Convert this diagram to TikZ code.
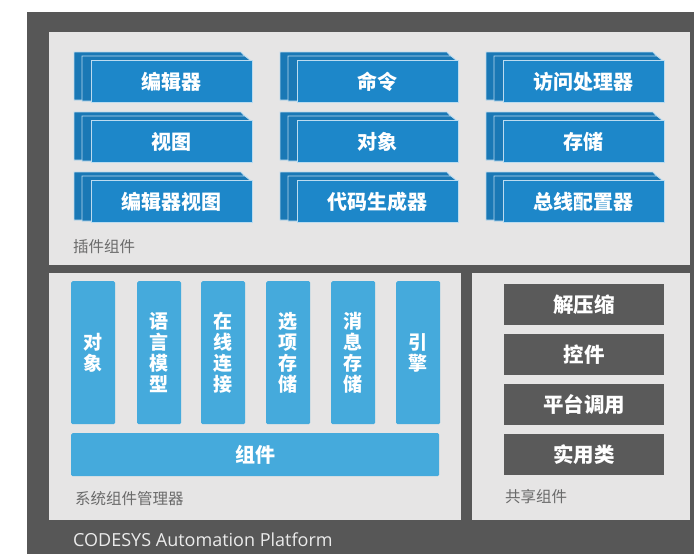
\documentclass[tikz,border=0pt]{standalone}
\usepackage{fontspec}
\setmainfont{Open Sans}
\newfontfamily\cjk{Noto Sans CJK SC}
\definecolor{framegray}{HTML}{575757}
\definecolor{panelgray}{HTML}{E6E5E5}
\definecolor{plugblue}{HTML}{1D87C9}
\definecolor{layerblue}{HTML}{1A78B5}
\definecolor{sysblue}{HTML}{45AADC}
\definecolor{darkbox}{HTML}{5A5A5A}
\definecolor{labelgray}{HTML}{6A6A6A}
\tikzset{
  panel/.style={fill=panelgray, draw=none},
  layer/.style={fill=layerblue, draw=white!70!plugblue, line width=0.9pt},
  plugbox/.style={fill=plugblue, draw=white!70!plugblue, line width=0.9pt, text=white,
    minimum width=161pt, minimum height=42pt, anchor=north west, inner sep=0pt,
    font=\cjk\bfseries\fontsize{20}{20}\selectfont},
  vbar/.style={fill=sysblue, text=white, minimum width=44pt, minimum height=143pt,
    anchor=north west, inner sep=0pt, align=center, rounded corners=1.5pt,
    font=\cjk\bfseries\fontsize{19}{21}\selectfont},
  hbar/.style={fill=sysblue, text=white, minimum width=368pt, minimum height=43pt,
    anchor=north west, inner sep=0pt, rounded corners=1.5pt,
    font=\cjk\bfseries\fontsize{20}{20}\selectfont},
  dbox/.style={fill=darkbox, text=white, minimum width=160pt, minimum height=41pt,
    anchor=north west, inner sep=0pt, font=\cjk\bfseries\fontsize{20.5}{20.5}\selectfont},
  grouplabel/.style={text=labelgray, anchor=west, inner sep=0pt,
    font=\cjk\fontsize{15.5}{15.5}\selectfont},
}
\newcommand\plugstack[4]{%
  \path[layer] (#2-17,#3-8) -- (#2+150,#3-8) -- (#2+157,#3) -- (#2+157,#3+40) -- (#2-17,#3+40) -- cycle;
  \path[layer] (#2-9,#3-4) -- (#2+154,#3-4) -- (#2+159,#3) -- (#2+159,#3+41) -- (#2-9,#3+41) -- cycle;
  \node[plugbox] (#1) at (#2,#3) {#4};
}
\begin{document}
\begin{tikzpicture}[x=1pt,y=-1pt]
\useasboundingbox (0,0) rectangle (694,554);
\fill[white] (0,0) rectangle (694,554);
\fill[framegray] (27,12) rectangle (694,554);
% panels
\node[panel, minimum width=641pt, minimum height=233pt, anchor=north west, inner sep=0pt] (plugpanel) at (49,32) {};
\node[panel, minimum width=412pt, minimum height=247pt, anchor=north west, inner sep=0pt] (syspanel) at (49,273) {};
\node[panel, minimum width=218pt, minimum height=247pt, anchor=north west, inner sep=0pt] (sharedpanel) at (472,273) {};
% plug-in components
\plugstack{editor}{91}{60}{编辑器}
\plugstack{command}{297}{60}{命令}
\plugstack{access}{503}{60}{访问处理器}
\plugstack{view}{91}{120}{视图}
\plugstack{object}{297}{120}{对象}
\plugstack{storage}{503}{120}{存储}
\plugstack{editorview}{91}{180}{编辑器视图}
\plugstack{codegen}{297}{180}{代码生成器}
\plugstack{busconf}{503}{180}{总线配置器}
\node[grouplabel] (pluglabel) at (73,247) {插件组件};
% system components
\node[vbar] (sobj) at (71,281) {对\\象};
\node[vbar] (slang) at (137,281) {语\\言\\模\\型};
\node[vbar] (sonline) at (201,281) {在\\线\\连\\接};
\node[vbar] (sopt) at (266,281) {选\\项\\存\\储};
\node[vbar] (smsg) at (331,281) {消\\息\\存\\储};
\node[vbar] (seng) at (396,281) {引\\擎};
\node[hbar] (scomp) at (71,433) {组件};
\node[grouplabel] (syslabel) at (75,499) {系统组件管理器};
% shared components
\node[dbox] (unzip) at (504,284) {解压缩};
\node[dbox] (ctrl) at (504,334) {控件};
\node[dbox] (pcall) at (504,384) {平台调用};
\node[dbox] (util) at (504,434) {实用类};
\node[grouplabel] (sharedlabel) at (505,497) {共享组件};
% platform
\node[text=white!92!black, anchor=west, inner sep=0pt, font=\fontsize{18}{18}\selectfont] (platform) at (73,540) {CODESYS Automation Platform};
\end{tikzpicture}
\end{document}
